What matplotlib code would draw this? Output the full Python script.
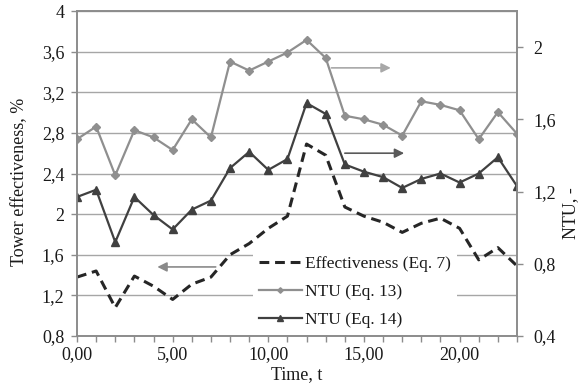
import numpy as np
import matplotlib
matplotlib.use('Agg')
import matplotlib.pyplot as plt
from matplotlib.ticker import FixedLocator, MultipleLocator, FuncFormatter

time = np.arange(24)

effectiveness = [1.38, 1.44, 1.08, 1.39, 1.29, 1.16, 1.31, 1.38, 1.60, 1.71, 1.86, 1.98,
                 2.69, 2.58, 2.07, 1.98, 1.92, 1.82, 1.91, 1.96, 1.86, 1.55, 1.67, 1.49]
ntu_eq13 = [1.49, 1.56, 1.29, 1.54, 1.50, 1.43, 1.60, 1.50, 1.92, 1.87, 1.92, 1.97,
            2.04, 1.94, 1.62, 1.60, 1.57, 1.51, 1.70, 1.68, 1.65, 1.49, 1.64, 1.52]
ntu_eq14 = [1.17, 1.21, 0.92, 1.17, 1.07, 0.99, 1.10, 1.15, 1.33, 1.42, 1.32, 1.38,
            1.69, 1.63, 1.35, 1.31, 1.28, 1.22, 1.27, 1.30, 1.25, 1.30, 1.39, 1.23]

labels = ['Effectiveness (Eq. 7)', 'NTU (Eq. 13)', 'NTU (Eq. 14)']

plt.rcParams['font.family'] = ['Liberation Serif', 'DejaVu Serif']

spine_c = '#8c8c8c'
grid_c = '#a6a6a6'
txt_c = '#1a1a1a'
light = '#8f8f8f'
dark = '#404040'


def comma(v, pos):
    s = ('%.1f' % v)
    if s.endswith('.0'):
        s = s[:-2]
    return s.replace('.', ',')


def comma2(v, pos):
    return ('%.2f' % v).replace('.', ',')


fig = plt.figure(figsize=(5.8, 3.89), dpi=100)
ax = fig.add_axes([77 / 580, 53 / 389, 440 / 580, 325 / 389])
ax2 = ax.twinx()

l1, = ax.plot(time, effectiveness, color='#262626', lw=2.2, ls=(0, (3.2, 1.9)))
l2, = ax2.plot(time, ntu_eq13, color=light, lw=1.6, marker='D', ms=4,
               mec=light, mfc=light)
l3, = ax2.plot(time, ntu_eq14, color=dark, lw=1.6, marker='^', ms=6,
               mec=dark, mfc=dark)

ax.set_xlim(0, 23)
ax.set_ylim(0.8, 4.0)
ax2.set_ylim(0.4, 2.2)

ax.yaxis.set_major_locator(MultipleLocator(0.4))
ax2.yaxis.set_major_locator(FixedLocator([0.4, 0.8, 1.2, 1.6, 2.0]))
ax.xaxis.set_major_locator(MultipleLocator(5))
ax.xaxis.set_minor_locator(MultipleLocator(1))
ax.yaxis.set_major_formatter(FuncFormatter(comma))
ax2.yaxis.set_major_formatter(FuncFormatter(comma))
ax.xaxis.set_major_formatter(FuncFormatter(comma2))

ax.grid(axis='y', color=grid_c, lw=1.0)
ax.set_axisbelow(True)

for a in (ax, ax2):
    for s in a.spines.values():
        s.set_color(spine_c)
        s.set_linewidth(1.2)
    a.tick_params(which='both', color=spine_c, length=4, width=1,
                  labelsize=13, labelcolor=txt_c)
ax.tick_params(axis='x', which='minor', length=4)
ax.tick_params(axis='x', pad=3)
ax.tick_params(axis='y', pad=5)
ax2.tick_params(axis='y', pad=8)

# arrows pointing to each series' axis
ax.annotate('', xy=(16.4, 3.44), xytext=(13.3, 3.44),
            arrowprops=dict(arrowstyle='-|>', color='#a8a8a8', lw=1.2,
                            mutation_scale=14, shrinkA=0, shrinkB=0))
ax.annotate('', xy=(17.1, 2.60), xytext=(14.0, 2.60),
            arrowprops=dict(arrowstyle='-|>', color='#5a5a5a', lw=1.2,
                            mutation_scale=14, shrinkA=0, shrinkB=0))
ax.annotate('', xy=(4.2, 1.48), xytext=(7.25, 1.48),
            arrowprops=dict(arrowstyle='-|>', color='#8a8a8a', lw=1.2,
                            mutation_scale=14, shrinkA=0, shrinkB=0))

leg = ax2.legend([l1, l2, l3], labels, loc='lower left',
                 bbox_to_anchor=(0.395, 0.0), frameon=True, fancybox=False,
                 edgecolor='none', facecolor='white', framealpha=1,
                 fontsize=12.5, handlelength=2.5, handletextpad=0.15,
                 labelspacing=0.68, borderpad=0.35, borderaxespad=0.1,
                 markerscale=0.7)
for t in leg.get_texts():
    t.set_color(txt_c)

fig.text(297 / 580, 1 - 375 / 389, 'Time, t', ha='center', va='center',
         fontsize=13, color=txt_c)
fig.text(20 / 580, 1 - 182 / 389, 'Tower effectiveness, %', ha='center',
         va='center', rotation=90, fontsize=13, color=txt_c)
fig.text(571 / 580, 1 - 213 / 389, 'NTU, -', ha='center', va='center',
         rotation=90, fontsize=13, color=txt_c)

fig.savefig('out.png', dpi=100, facecolor='white')
